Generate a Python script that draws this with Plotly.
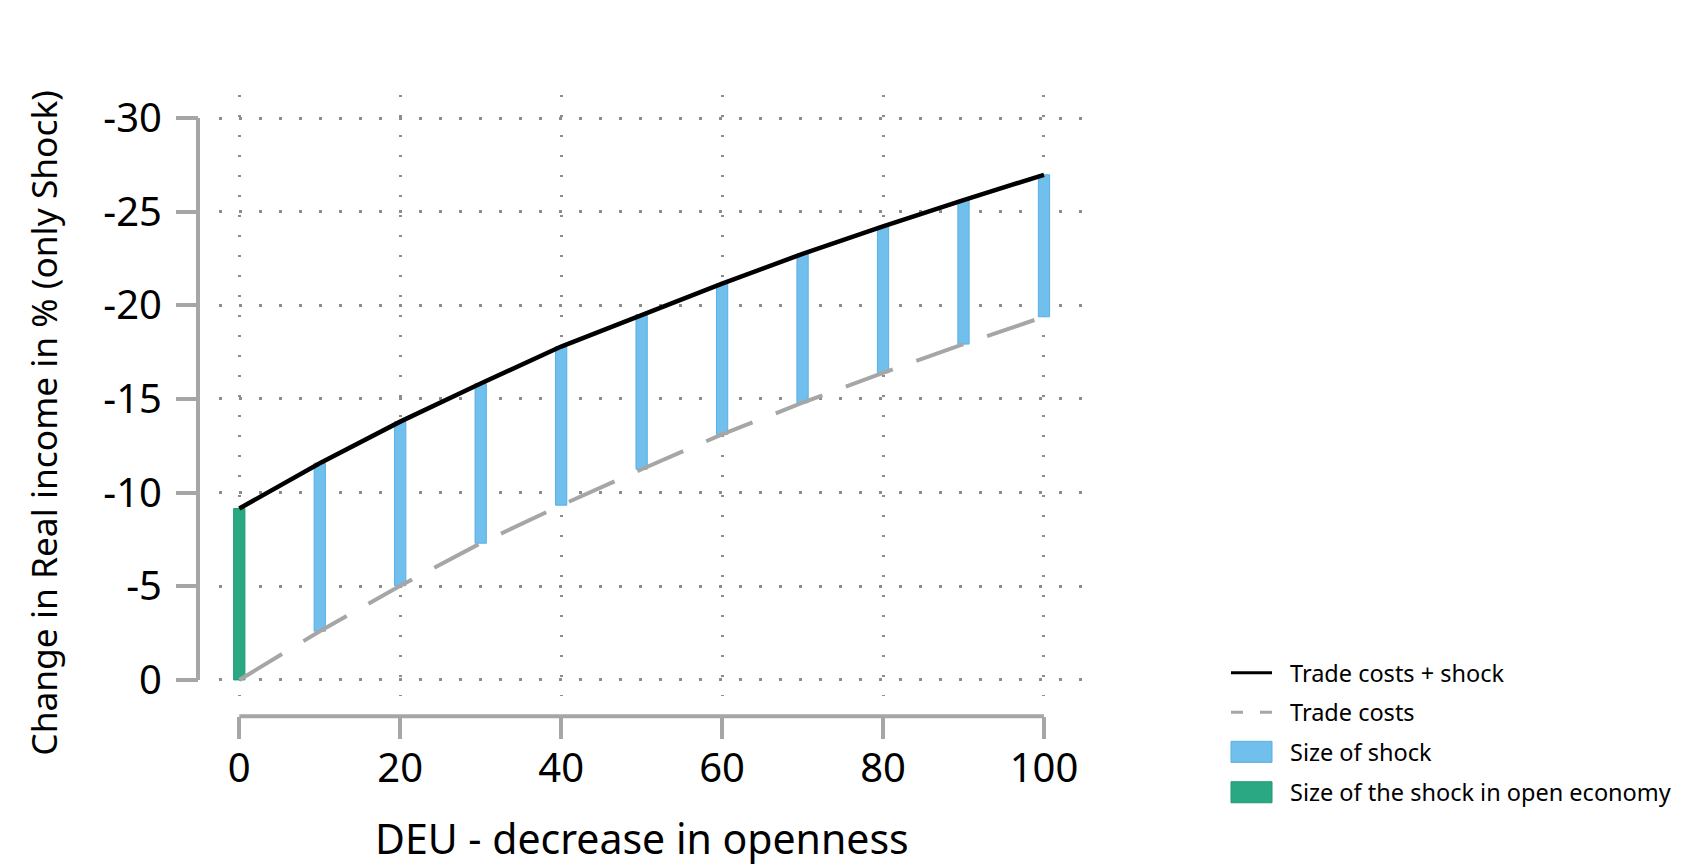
import plotly.graph_objects as go

# ---- data ----
openness = [0, 10, 20, 30, 40, 50, 60, 70, 80, 90, 100]
trade_costs_shock = [-9.15, -11.57, -13.79, -15.83, -17.8, -19.51, -21.16, -22.75, -24.22, -25.62, -26.97]
trade_costs = [0.0, -2.60, -5.03, -7.30, -9.33, -11.25, -13.11, -14.80, -16.40, -17.93, -19.39]
x_ticks = [0, 20, 40, 60, 80, 100]
x_ticktext = ["0", "20", "40", "60", "80", "100"]
y_ticks = [-30, -25, -20, -15, -10, -5, 0]
y_ticktext = ["-30", "-25", "-20", "-15", "-10", "-5", "0"]
legend_labels = ["Trade costs + shock", "Trade costs", "Size of shock",
                 "Size of the shock in open economy"]
x_title = "DEU - decrease in openness"
y_title = "Change in Real income in % (only Shock)"

W, H = 1688, 867
FONT = "Noto Sans"
AXIS_GREY = "#A6A6A6"
GRID_GREY = "#8C8C8C"
BLUE = "#70BFEC"
BLUE_EDGE = "#58B0E4"
GREEN = "#2AA883"
GREEN_EDGE = "#1E9A74"


def px_x(p):
    return p / W


def px_y(p):
    return 1 - p / H


shock_size = [a - b for a, b in zip(trade_costs_shock, trade_costs)]

fig = go.Figure()

fig.add_trace(go.Scatter(
    x=openness, y=trade_costs_shock, mode="lines", name=legend_labels[0],
    line=dict(color="black", width=4.5)))
fig.add_trace(go.Scatter(
    x=openness, y=trade_costs, mode="lines", name=legend_labels[1],
    line=dict(color=AXIS_GREY, width=4, dash="50px,25px")))
fig.add_trace(go.Bar(
    x=openness[1:], y=shock_size[1:], base=trade_costs[1:], width=1.4,
    name=legend_labels[2], marker=dict(color=BLUE, line=dict(color=BLUE_EDGE, width=1))))
fig.add_trace(go.Bar(
    x=openness[:1], y=shock_size[:1], base=trade_costs[:1], width=1.4,
    name=legend_labels[3],
    marker=dict(color=GREEN, line=dict(color=GREEN_EDGE, width=1))))

# plot area in pixels
x_left_px, x_right_px = 219, 1083
y_top_px, y_bot_px = 91.4, 703.0
yaxis_px = 198
xaxis_px = 723.8

fig.update_layout(
    width=W, height=H,
    margin=dict(l=0, r=0, t=0, b=0),
    paper_bgcolor="white", plot_bgcolor="white",
    barmode="overlay",
    font=dict(family=FONT, color="black"),
    showlegend=False,
    xaxis=dict(
        domain=[px_x(x_left_px), px_x(x_right_px)],
        range=[-2.52, 104.85],
        anchor="free", position=px_y(xaxis_px),
        tickvals=x_ticks, ticktext=x_ticktext,
        ticks="outside", ticklen=22, tickwidth=4, tickcolor=AXIS_GREY,
        tickfont=dict(size=40, family=FONT, color="black"),
        ticklabelstandoff=-5,
        showline=False, zeroline=False,
        showgrid=True, gridcolor=GRID_GREY, gridwidth=2.5, griddash="2.5px,17.5px",
    ),
    yaxis=dict(
        domain=[px_y(y_bot_px), px_y(y_top_px)],
        range=[0.85, -31.24],
        anchor="free", position=px_x(yaxis_px),
        tickvals=y_ticks, ticktext=y_ticktext,
        ticks="outside", ticklen=22, tickwidth=4, tickcolor=AXIS_GREY,
        tickfont=dict(size=40, family=FONT, color="black"),
        ticklabelstandoff=6,
        showline=False, zeroline=False,
        showgrid=True, gridcolor=GRID_GREY, gridwidth=2.5, griddash="2.5px,17.5px",
    ),
)

# axis titles
fig.add_annotation(text=x_title, xref="x", yref="paper",
                   x=(min(x_ticks) + max(x_ticks)) / 2, y=px_y(848),
                   xanchor="center", yanchor="middle", showarrow=False,
                   font=dict(size=41, family=FONT, color="black"))
fig.add_annotation(text=y_title, xref="paper", yref="paper",
                   x=px_x(43), y=px_y(426), textangle=-90,
                   xanchor="center", yanchor="middle", showarrow=False,
                   font=dict(size=35.3, family=FONT, color="black"))

# detached axis lines spanning only the tick range
fig.add_shape(type="line", xref="paper", yref="y",
              x0=px_x(yaxis_px), x1=px_x(yaxis_px), y0=min(y_ticks), y1=max(y_ticks),
              line=dict(color=AXIS_GREY, width=4), layer="above")
fig.add_shape(type="line", xref="x", yref="paper",
              x0=min(x_ticks), x1=max(x_ticks),
              y0=px_y(xaxis_px), y1=px_y(xaxis_px),
              line=dict(color=AXIS_GREY, width=4), layer="above")

# legend (drawn manually to reproduce the wide swatches)
leg_x0, leg_x1, leg_text_x = 1231, 1272, 1288
leg_rows = [679.6, 719.8, 760.0, 801.1]
fig.add_shape(type="line", xref="paper", yref="paper",
              x0=px_x(leg_x0), x1=px_x(leg_x1), y0=px_y(leg_rows[0]), y1=px_y(leg_rows[0]),
              line=dict(color="black", width=3))
fig.add_shape(type="line", xref="paper", yref="paper",
              x0=px_x(leg_x0), x1=px_x(leg_x1), y0=px_y(leg_rows[1]), y1=px_y(leg_rows[1]),
              line=dict(color=AXIS_GREY, width=3, dash="12px,17px"))
for row, fill, edge in [(leg_rows[2], BLUE, BLUE_EDGE), (leg_rows[3], GREEN, GREEN_EDGE)]:
    fig.add_shape(type="rect", xref="paper", yref="paper",
                  x0=px_x(leg_x0), x1=px_x(leg_x1), y0=px_y(row - 10.7), y1=px_y(row + 10.7),
                  fillcolor=fill, line=dict(color=edge, width=1))
for row, label in zip(leg_rows, legend_labels):
    fig.add_annotation(text=label, xref="paper", yref="paper",
                       x=px_x(leg_text_x), y=px_y(row), xanchor="left", yanchor="middle",
                       showarrow=False, font=dict(size=23.5, family=FONT, color="black"))

fig.write_html("out.html",
               config={"displayModeBar": False},
               post_script="document.body.style.margin='0';document.body.style.overflow='hidden';")
